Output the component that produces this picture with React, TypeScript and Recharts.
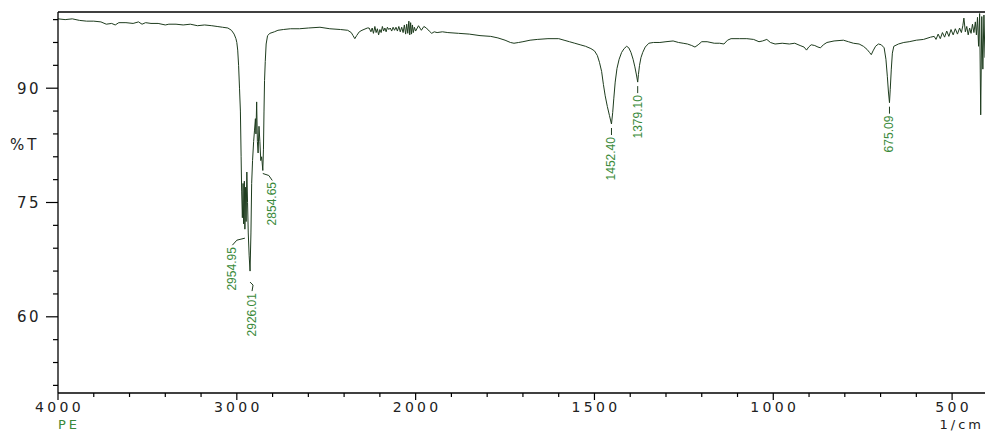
import React from 'react';
import { ComposedChart, Line, Scatter, XAxis, YAxis, ReferenceLine } from 'recharts';

// ---- data (wavenumber in 1/cm, transmittance in %T) ----
const wavenumbers = [
  4000, 3960, 3920, 3880, 3840, 3800, 3760, 3730, 3700, 3680, 3660, 3620, 3580, 3550, 3530, 3510, 3480, 3440, 3400, 3380,
  3340, 3300, 3260, 3220, 3180, 3140, 3110, 3080, 3050, 3030, 3015, 3005, 3000, 2995, 2990, 2985, 2980, 2976, 2973, 2969,
  2965, 2962, 2958, 2954.95, 2951, 2948, 2944, 2940, 2936, 2931, 2926.01, 2921, 2917, 2912, 2906, 2901, 2896, 2893, 2889, 2885,
  2881, 2876, 2871, 2866, 2861, 2854.65, 2851, 2848, 2845, 2841, 2836, 2828, 2815, 2790, 2770, 2740, 2700, 2650, 2600, 2535,
  2480, 2420, 2380, 2360, 2350, 2340, 2330, 2315, 2300, 2270, 2260, 2250, 2243, 2236, 2228, 2221, 2214, 2207, 2200, 2193,
  2186, 2179, 2172, 2165, 2158, 2150, 2142, 2134, 2126, 2118, 2110, 2102, 2094, 2086, 2078, 2070, 2063, 2056, 2050, 2044,
  2038, 2033, 2028, 2023, 2018, 2013, 2007, 2000, 1992, 1984, 1977, 1970, 1962, 1955, 1948, 1940, 1925, 1910, 1880, 1850,
  1820, 1790, 1770, 1750, 1735, 1725, 1712, 1700, 1680, 1660, 1630, 1600, 1585, 1570, 1555, 1540, 1525, 1510, 1500, 1492,
  1486, 1480, 1475, 1470, 1464, 1458, 1452.4, 1449, 1446, 1442, 1437, 1431, 1424, 1417, 1410, 1404, 1398, 1392, 1387, 1382,
  1379.1, 1377, 1374, 1370, 1365, 1358, 1348, 1335, 1317, 1300, 1280, 1265, 1252, 1240, 1228, 1219, 1210, 1200, 1185, 1165,
  1150, 1138, 1128, 1118, 1095, 1074, 1055, 1040, 1030, 1018, 1008, 995, 975, 955, 940, 925, 914, 907, 901, 894,
  884, 875, 868, 860, 850, 830, 804, 790, 776, 760, 748, 738, 731, 726, 721, 714, 706, 698, 690, 685,
  681, 678, 675.09, 673, 670, 667, 663, 650, 635, 620, 600, 580, 560, 550, 545, 539, 533, 527, 521, 515,
  509, 503, 497, 491, 485, 479, 474, 470, 467, 463, 459, 455, 451, 447, 443, 439, 435, 432, 429, 426,
  423, 420, 417, 414, 411, 408,
];
const transmittance = [
  99.1, 99.0, 99.1, 98.9, 98.8, 98.8, 98.7, 98.4, 98.5, 98.3, 98.6, 98.6, 98.5, 98.7, 98.4, 98.6, 98.5, 98.5, 98.3, 98.4,
  98.4, 98.3, 98.4, 98.2, 98.3, 98.2, 98.1, 98.0, 97.9, 97.6, 97.1, 96.5, 96.0, 95.0, 93.0, 90.0, 87.0, 81.0, 76.5, 73.0,
  77.5, 72.2, 77.8, 71.5, 77.0, 72.5, 79.0, 75.0, 71.0, 68.0, 66.0, 71.0, 77.5, 80.5, 83.0, 84.5, 86.0, 84.0, 88.2, 83.0,
  81.5, 85.0, 83.0, 80.5, 81.0, 79.2, 82.0, 87.0, 91.0, 93.5, 95.8, 96.9, 97.2, 97.4, 97.6, 97.7, 97.8, 97.8, 97.9, 98.0,
  97.8, 97.7, 97.6, 97.3, 96.9, 96.5, 96.9, 97.4, 97.6, 97.9, 97.9, 97.4, 97.9, 97.2, 98.1, 97.3, 97.8, 97.0, 97.7, 97.3,
  98.1, 97.5, 97.9, 97.4, 98.0, 97.7, 97.9, 97.5, 98.0, 97.6, 98.0, 97.5, 98.1, 97.4, 98.0, 97.3, 98.3, 97.1, 98.4, 97.2,
  98.8, 97.0, 98.6, 97.1, 98.3, 97.3, 98.0, 97.5, 98.2, 97.6, 98.1, 97.9, 97.5, 97.2, 97.4, 97.3, 97.4, 97.3, 97.2, 97.1,
  96.9, 96.8, 96.6, 96.3, 96.0, 95.9, 96.0, 96.1, 96.3, 96.4, 96.5, 96.5, 96.3, 96.1, 95.9, 95.7, 95.5, 95.2, 94.9, 94.3,
  93.4, 92.2, 90.5, 89.0, 87.6, 86.4, 85.3, 86.8, 88.6, 90.8, 92.6, 93.8, 94.7, 95.2, 95.5, 95.3, 94.7, 93.8, 92.8, 91.6,
  90.8, 91.8, 93.0, 94.0, 94.7, 95.4, 95.9, 96.0, 96.0, 96.1, 96.2, 96.0, 95.9, 95.8, 95.6, 95.4, 95.7, 96.1, 96.1, 95.9,
  95.9, 95.8, 96.3, 96.5, 96.5, 96.5, 96.4, 96.1, 96.2, 96.4, 96.0, 95.8, 95.9, 95.8, 95.9, 95.6, 95.4, 95.0, 95.4, 95.7,
  95.6, 95.4, 95.3, 95.7, 96.0, 96.2, 96.3, 96.1, 95.9, 95.8, 95.5, 95.1, 94.7, 94.4, 94.9, 95.5, 95.8, 95.7, 95.3, 93.8,
  91.5, 89.5, 88.1, 89.8, 92.5, 94.6, 95.5, 95.8, 96.0, 96.1, 96.3, 96.4, 96.7, 96.8, 96.4, 97.1, 96.5, 97.3, 96.7, 97.5,
  96.8, 97.7, 97.0, 97.8, 97.1, 97.9, 97.3, 98.2, 99.2, 97.4, 98.1, 97.0, 97.9, 97.2, 98.4, 97.3, 98.7, 97.0, 99.3, 95.5,
  99.8, 86.5, 99.4, 92.5, 99.6, 94.0,
];

const peakWavenumbers = [2954.95, 2926.01, 2854.65, 1452.4, 1379.1, 675.09];
const peakTransmittance = [71.5, 66.0, 79.2, 85.3, 90.8, 88.1];
const peakLabels = ['2954.95', '2926.01', '2854.65', '1452.40', '1379.10', '675.09'];

const xMajorTicks = [4000, 3000, 2000, 1500, 1000, 500];
const xMinorTicks = [3800, 3600, 3400, 3200, 2800, 2600, 2400, 2200, 1900, 1800, 1700, 1600, 1400, 1300, 1200, 1100, 900, 800, 700, 600];
const yMajorTicks = [60, 75, 90];
const yMinorTicks = [51, 54, 57, 63, 66, 69, 72, 78, 81, 84, 87, 93, 96, 99];

// ---- axis transform: the spectrometer doubles the scale below 2000 1/cm ----
const BREAK = 2000;
const toAxis = (w: number) => (w >= BREAK ? 4000 - w : 2000 + 2 * (BREAK - w));
const fromAxis = (u: number) => (u <= 2000 ? 4000 - u : BREAK - (u - 2000) / 2);

const spectrum = wavenumbers.map((w, i) => ({ u: toAxis(w), t: transmittance[i] }));
const peaks = peakWavenumbers.map((w, i) => ({ u: toAxis(w), t: peakTransmittance[i], label: peakLabels[i] }));

// label placement styling (pixel offsets from the peak point)
const labelStyle: Record<string, { dx: number; gap: number; path: (cx: number, cy: number) => string }> = {
  '2954.95': { dx: -12.5, gap: 18, path: (cx, cy) => `M${cx},${cy + 9} L${cx - 8},${cy + 11} L${cx - 12.5},${cy + 16}` },
  '2926.01': { dx: 2, gap: 22, path: (cx, cy) => `M${cx},${cy + 11} L${cx + 3},${cy + 14} L${cx + 2},${cy + 20}` },
  '2854.65': { dx: 9.5, gap: 11.5, path: (cx, cy) => `M${cx},${cy + 3} L${cx + 6},${cy + 5} L${cx + 9.5},${cy + 10}` },
};
const defaultGap = 13;

const LINE_COLOR = '#1e3c1e';
const LABEL_GREEN = '#3a8a3a';
const TICK_FONT = '"DejaVu Sans", Verdana, sans-serif';

const PeakLabel = (props: any) => {
  const { cx, cy, payload } = props;
  if (cx == null || cy == null) return <g />;
  const st = labelStyle[payload.label];
  const dx = st ? st.dx : 0;
  const gap = st ? st.gap : defaultGap;
  const d = st ? st.path(cx, cy) : `M${cx},${cy + 4} L${cx},${cy + gap - 2}`;
  const tx = cx + dx;
  const ty = cy + gap;
  return (
    <g>
      <path d={d} fill="none" stroke={LINE_COLOR} strokeWidth={1} />
      <text
        transform={`translate(${tx},${ty}) rotate(-90)`}
        textAnchor="end"
        dominantBaseline="central"
        fontSize={12}
        fontFamily='"Liberation Sans", Arial, sans-serif'
        fill={LABEL_GREEN}
      >
        {payload.label}
      </text>
    </g>
  );
};

const XTick = (props: any) => {
  const { x, y, payload } = props;
  const w = Math.round(fromAxis(payload.value));
  const major = xMajorTicks.includes(w);
  return (
    <g>
      <line x1={x} x2={x} y1={y} y2={y + (major ? 7 : 4)} stroke="#000" strokeWidth={1.2} />
      {major && (
        <text x={x + 1.5} y={y + 19} textAnchor="middle" fontSize={14} fontFamily={TICK_FONT} letterSpacing={3.3} fill="#222">
          {w}
        </text>
      )}
    </g>
  );
};

const YTick = (props: any) => {
  const { x, y, payload } = props;
  const v = Math.round(payload.value);
  const major = yMajorTicks.includes(v);
  return (
    <g>
      <line x1={x} x2={x - (major ? 12 : 5)} y1={y} y2={y} stroke="#000" strokeWidth={1.2} />
      {major && (
        <text x={x - 17} y={y + 5.5} textAnchor="end" fontSize={15} fontFamily={TICK_FONT} letterSpacing={2.5} fill="#222">
          {v}
        </text>
      )}
    </g>
  );
};

const xTicks = [...xMajorTicks, ...xMinorTicks].map(toAxis).sort((a, b) => a - b);
const yTicks = [...yMajorTicks, ...yMinorTicks].sort((a, b) => a - b);

export default function App() {
  return (
    <div style={{ position: 'absolute', left: 0, top: 0, width: 985, height: 432, background: '#fff', overflow: 'hidden' }}>
      <ComposedChart width={985} height={432} data={spectrum} margin={{ top: 12, right: 0, bottom: 0, left: 0 }}>
        <XAxis
          dataKey="u"
          type="number"
          domain={[0, toAxis(408)]}
          allowDataOverflow
          ticks={xTicks}
          interval={0}
          tick={<XTick />}
          tickLine={false}
          tickSize={0}
          tickMargin={0}
          height={39}
          axisLine={{ stroke: '#000', strokeWidth: 1.3 }}
        />
        <YAxis
          type="number"
          domain={[50, 100]}
          allowDataOverflow
          ticks={yTicks}
          interval={0}
          tick={<YTick />}
          tickLine={false}
          tickSize={0}
          tickMargin={0}
          width={58}
          axisLine={{ stroke: '#000', strokeWidth: 1.3 }}
        />
        <ReferenceLine y={100} stroke="#000" strokeWidth={1.3} />
        <Line
          dataKey="t"
          type="linear"
          stroke={LINE_COLOR}
          strokeWidth={1}
          dot={false}
          isAnimationActive={false}
        />
        <Scatter data={peaks} dataKey="t" shape={(p: any) => <PeakLabel {...p} />} isAnimationActive={false} />
      </ComposedChart>
      <div style={{ position: 'absolute', left: 10, top: 137, fontFamily: TICK_FONT, fontSize: 15, letterSpacing: 3, color: '#222', lineHeight: '16px' }}>
        %T
      </div>
      <div style={{ position: 'absolute', left: 58, top: 418, fontFamily: TICK_FONT, fontSize: 13, letterSpacing: 3, color: LABEL_GREEN, lineHeight: '14px', whiteSpace: 'nowrap' }}>
        PE
      </div>
      <div style={{ position: 'absolute', right: 1, top: 418, fontFamily: TICK_FONT, fontSize: 13, letterSpacing: 3, color: '#222', lineHeight: '14px', whiteSpace: 'nowrap' }}>
        1/cm
      </div>
    </div>
  );
}
